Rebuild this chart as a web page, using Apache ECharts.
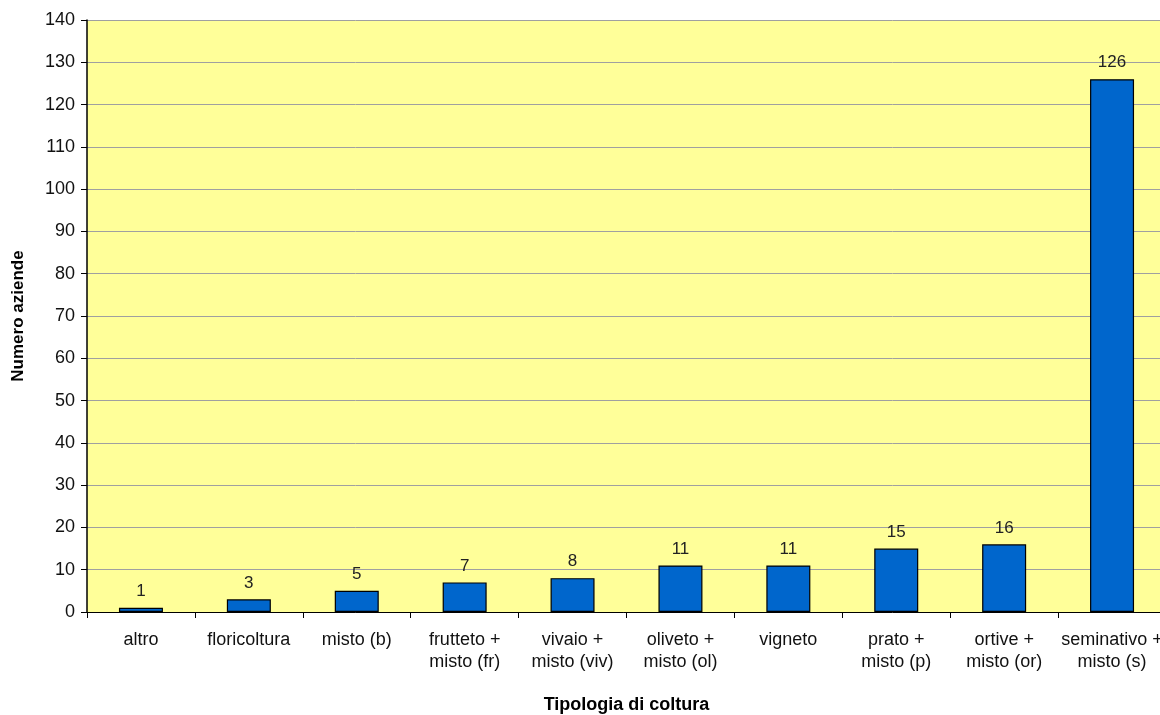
<!DOCTYPE html>
<html><head><meta charset="utf-8">
<script src="https://cdn.jsdelivr.net/npm/echarts@6/dist/echarts.min.js"></script>
<style>html,body{margin:0;padding:0;background:#fff}#c{width:1160px;height:715px}</style>
</head><body><div id="c"></div>
<script>
const categories = ["altro","floricoltura","misto (b)","frutteto +\nmisto (fr)","vivaio +\nmisto (viv)","oliveto +\nmisto (ol)","vigneto","prato +\nmisto (p)","ortive +\nmisto (or)","seminativo +\nmisto (s)"];
const values = [1,3,5,7,8,11,11,15,16,126];
const yTicks = {min:0, max:140, interval:10};
const chart = echarts.init(document.getElementById('c'));
chart.setOption({
  animation:false,
  textStyle:{fontFamily:'Liberation Sans, Arial, sans-serif'},
  grid:{left:87,right:-6,top:20,bottom:103,show:true,backgroundColor:'#FFFF99',borderWidth:0,
    containLabel:false,outerBoundsMode:'none'},
  xAxis:{type:'category',data:categories,
    name:'Tipologia di coltura',nameLocation:'middle',nameGap:84,
    nameTextStyle:{fontWeight:'bold',fontSize:18,color:'#000'},
    axisLine:{lineStyle:{color:'#000',width:1}},
    axisTick:{show:true,length:6,lineStyle:{color:'#000'}},
    axisLabel:{fontSize:18,color:'#111',margin:17,lineHeight:22,interval:0}},
  yAxis:{type:'value',min:yTicks.min,max:yTicks.max,interval:yTicks.interval,
    name:'Numero aziende',nameLocation:'middle',nameGap:60,nameRotate:90,
    nameTextStyle:{fontWeight:'bold',fontSize:17,color:'#000'},
    axisLine:{show:true,lineStyle:{color:'#000',width:1.5}},
    axisTick:{show:true,length:6,lineStyle:{color:'#000'}},
    axisLabel:{fontSize:18,color:'#111',margin:12},
    splitLine:{lineStyle:{color:'#A0A0A0',width:1}}},
  series:[{type:'bar',data:values,barWidth:44,
    itemStyle:{color:'#0066CC',borderColor:'#000',borderWidth:1.2},
    label:{show:true,position:'top',distance:8,fontSize:17,color:'#222'}}]
});
</script></body></html>
